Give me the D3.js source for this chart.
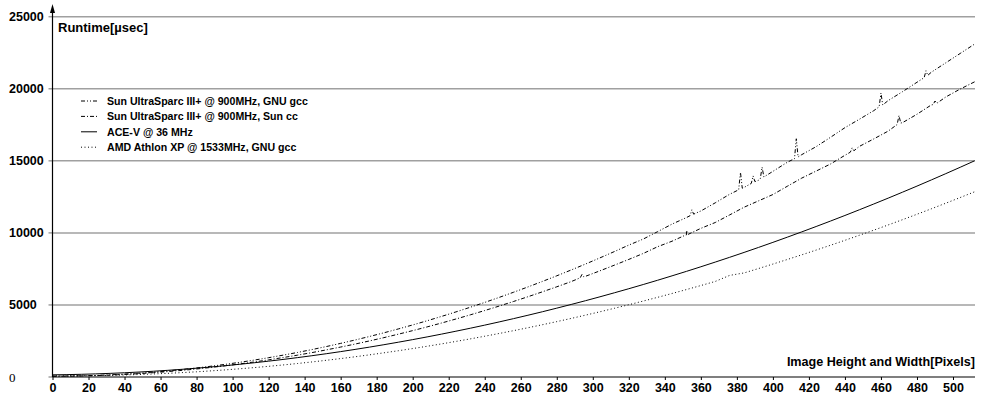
<!DOCTYPE html>
<html><head><meta charset="utf-8">
<script src="https://cdn.jsdelivr.net/npm/d3@7"></script>
<style>
html,body{margin:0;padding:0;background:#fff;}
svg{display:block;}
text{font-family:"Liberation Sans",Arial,Helvetica,sans-serif;font-weight:bold;fill:#000;}
</style></head>
<body><svg id="c" width="986" height="399"></svg>
<script>
// ---- data ----
const sizes = [0,8,16,24,32,40,48,56,64,72,80,88,96,104,112,120,128,136,144,152,160,168,176,184,192,200,208,216,224,232,240,248,256,264,272,280,288,296,304,312,320,328,336,344,352,360,368,376,384,392,400,408,416,424,432,440,448,456,464,472,480,488,496,504,512];
const sunGcc = [60,66,83,111,151,202,265,338,424,520,628,748,878,1020,1174,1339,1515,1702,1901,2112,2333,2566,2811,3066,3334,3612,3902,4203,4516,4840,5175,5522,5880,6249,6630,7022,7425,7840,8267,8704,9153,9570,10085,10610,11063,11520,12086,12680,13154,13650,14268,14900,15427,15980,16632,17300,17883,18480,19178,19800,20450,21150,21800,22450,23100];
const sunGccSpikes = [[354,11190],[355,11600],[356,11300],[381,12990],[382,14200],[383,13100],[388,13430],[389,13950],[390,13560],[393,13760],[394,14560],[395,13880],[412,15150],[413,16530],[414,15270],[459,18750],[460,19700],[461,18880],[484,20770],[485,21250],[486,20930]];
const sunCc = [50,55,70,96,131,177,232,298,374,461,557,663,780,907,1043,1190,1348,1515,1692,1880,2078,2285,2503,2731,2970,3218,3476,3745,4024,4313,4612,4921,5240,5570,5910,6259,6619,6989,7369,7760,8160,8571,9040,9422,9863,10314,10720,11247,11780,12220,12660,13234,13800,14288,14780,15383,16000,16519,17060,17650,18230,18880,19430,19980,20480];
const sunCcSpikes = [[293,6880],[294,7120],[295,6950],[351,9820],[352,10170],[353,9900],[443,15600],[444,15900],[445,15700],[469,17520],[470,18140],[471,17620],[489,18900],[490,19150],[491,18990]];
const aceV = [150,165,187,216,252,294,344,400,464,534,611,695,786,884,988,1100,1218,1344,1476,1615,1761,1914,2074,2240,2414,2594,2781,2976,3177,3384,3599,3821,4050,4285,4527,4777,5033,5296,5566,5843,6126,6417,6714,7019,7330,7648,7973,8305,8644,8989,9342,9702,10068,10441,10821,11208,11602,12003,12410,12825,13246,13675,14110,14552,15001];
const amdAthlon = [80,80,85,98,116,141,173,210,254,305,361,425,494,570,652,740,835,936,1044,1158,1278,1404,1537,1677,1822,1974,2132,2297,2468,2645,2829,3019,3215,3418,3627,3843,4064,4293,4527,4768,5015,5269,5528,5795,6067,6346,6631,7050,7221,7525,7836,8153,8476,8806,9142,9485,9833,10188,10550,10917,11292,11672,12059,12452,12852];
const seriesNames = ["Sun UltraSparc III+ @ 900MHz, GNU gcc","Sun UltraSparc III+ @ 900MHz, Sun cc","ACE-V @ 36 MHz","AMD Athlon XP @ 1533MHz, GNU gcc"];
const xTicks = [0,20,40,60,80,100,120,140,160,180,200,220,240,260,280,300,320,340,360,380,400,420,440,460,480,500];
const yTicks = [0,5000,10000,15000,20000,25000];
const yTitle = "Runtime[µsec]";
const xTitle = "Image Height and Width[Pixels]";

// ---- drawing ----
const svg = d3.select("#c");
const x = d3.scaleLinear().domain([0,512]).range([52.5,974.6]);
const y = d3.scaleLinear().domain([0,25000]).range([377,16.7]);
const xEnd = 975;

function merge(base, spikes){
  const pts = sizes.map((n,i)=>[n,base[i]]);
  return pts.concat(spikes||[]).sort((a,b)=>a[0]-b[0]);
}
const series = [
  {name:seriesNames[0], pts:merge(sunGcc,sunGccSpikes), dash:"4,2,1,2,1,2"},
  {name:seriesNames[1], pts:merge(sunCc,sunCcSpikes), dash:"4,2,1,2"},
  {name:seriesNames[2], pts:merge(aceV), dash:null},
  {name:seriesNames[3], pts:merge(amdAthlon), dash:"1,2.5"}
];

// gridlines
svg.append("g").selectAll("line").data(yTicks.filter(t=>t>0)).join("line")
  .attr("x1",x(0)).attr("x2",xEnd).attr("y1",d=>y(d)).attr("y2",d=>y(d))
  .attr("stroke","#a0a0a0").attr("stroke-width",1.5);
// y tick marks
svg.append("g").selectAll("line").data(yTicks).join("line")
  .attr("x1",x(0)-4).attr("x2",x(0)).attr("y1",d=>y(d)).attr("y2",d=>y(d))
  .attr("stroke","#a0a0a0").attr("stroke-width",1.5);
// y tick labels (left aligned)
svg.append("g").selectAll("text").data(yTicks).join("text")
  .attr("x",9).attr("y",d=>y(d)).attr("dy","0.36em")
  .style("font-size",d=>d===0?"13px":"12.5px")
  .style("font-family",d=>d===0?"'Liberation Serif',serif":null)
  .style("font-weight",d=>d===0?"normal":null)
  .text(d=>d);

// x axis
const xAxis = d3.axisBottom(x).tickValues(xTicks).tickSize(3).tickSizeOuter(0).tickPadding(3);
const gx = svg.append("g").attr("transform",`translate(0,${y(0)})`).call(xAxis);
gx.select(".domain").remove();
gx.append("line").attr("x1",x(0)).attr("x2",xEnd).attr("stroke","#000").attr("stroke-width",1.2);
gx.selectAll(".tick line").attr("stroke","#000");
gx.selectAll(".tick text").style("font-size","12.5px").style("font-family","'Liberation Sans',Arial,sans-serif").style("font-weight","bold").attr("fill","#000");

// y axis line + arrow
svg.append("line").attr("x1",x(0)).attr("x2",x(0)).attr("y1",y(0)).attr("y2",10)
  .attr("stroke","#000").attr("stroke-width",1.2);
svg.append("path").attr("d",`M${x(0)},4 L${x(0)-2.5},13 L${x(0)+2.5},13 Z`).attr("fill","#000");

// data lines
const line = d3.line().x(d=>x(d[0])).y(d=>y(d[1]));
svg.append("g").selectAll("path").data(series).join("path")
  .attr("d",d=>line(d.pts)).attr("fill","none").attr("stroke","#000")
  .attr("stroke-width",1).attr("stroke-dasharray",d=>d.dash);

// titles
svg.append("text").attr("x",58).attr("y",27).attr("dy","0.36em").style("font-size","13px").text(yTitle);
svg.append("text").attr("x",xEnd).attr("y",361).attr("dy","0.36em").attr("text-anchor","end").style("font-size","12.6px").text(xTitle);

// legend
const lg = svg.append("g").selectAll("g").data(series).join("g")
  .attr("transform",(d,i)=>`translate(0,${101+i*15.4})`);
lg.append("line").attr("x1",81).attr("x2",97).attr("y1",0).attr("y2",0)
  .attr("stroke","#000").attr("stroke-width",1).attr("stroke-dasharray",d=>d.dash);
lg.append("text").attr("x",107).attr("y",0).attr("dy","0.36em").style("font-size","10.6px").text(d=>d.name);
</script></body></html>
